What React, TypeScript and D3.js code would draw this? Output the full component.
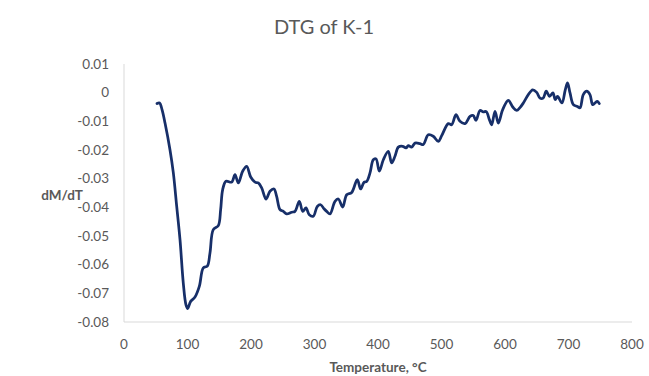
import { useRef, useEffect } from "react";
import * as d3 from "d3";

// DTG of K-1
const temperature = [
  52, 56, 60, 64.6, 72.4, 77.7, 83, 88.2, 93.4, 97.6, 100.3, 105, 111.8, 118.6, 124.9, 131.2,
  135.4, 140.6, 148.5, 152.2, 155.4, 160.6, 169.6, 174.8, 180, 186.9, 193.2, 199.5, 206.3,
  211.5, 216.8, 223.6, 229.9, 236.2, 240.4, 245.7, 250.9, 256.2, 264, 269.3, 276.1, 281.4,
  286.6, 291.8, 298.1, 304.4, 309.7, 315, 319.2, 324.4, 332.3, 337.5, 344.4, 350.7, 358.6,
  367.4, 372.6, 377.9, 382.1, 387.4, 392.6, 396.9, 402.1, 408.4, 416.2, 421.5, 426.7, 432,
  438.9, 444, 447.8, 453, 458.3, 466.1, 471.3, 479.2, 487, 495, 500.3, 510.7, 516, 522.8,
  529.1, 537, 544.9, 550, 554.3, 560.6, 565.8, 570.5, 575.4, 579, 584.3, 589.5, 596.4, 605.2,
  612.2, 618.4, 623.6, 628.9, 636.7, 643.6, 649.9, 655.1, 660, 665, 670.2, 675.5, 679.1,
  682.8, 689.6, 694.9, 698.5, 702.4, 707.6, 713.9, 718.1, 723.3, 728.6, 733.8, 738, 741.7,
  745.4, 748.5,
];
const dtg = [
  -0.0038, -0.0036, -0.006, -0.0106, -0.0199, -0.028, -0.0397, -0.0513, -0.0665, -0.074,
  -0.0753, -0.0728, -0.0713, -0.0676, -0.0611, -0.0605, -0.0559, -0.0478, -0.0464, -0.0408,
  -0.0338, -0.0309, -0.0312, -0.0286, -0.0315, -0.0274, -0.0257, -0.0294, -0.0312, -0.0315,
  -0.0332, -0.0371, -0.0344, -0.0336, -0.0362, -0.0408, -0.0414, -0.0423, -0.0417, -0.0414,
  -0.0379, -0.0414, -0.0402, -0.0426, -0.0431, -0.0397, -0.0391, -0.0405, -0.0414, -0.0423,
  -0.0379, -0.0371, -0.0399, -0.0356, -0.0348, -0.0303, -0.0336, -0.0313, -0.031, -0.028,
  -0.0234, -0.0231, -0.0274, -0.0234, -0.0205, -0.0245, -0.0222, -0.019, -0.0187, -0.0193,
  -0.0185, -0.019, -0.0176, -0.0178, -0.0181, -0.0147, -0.0152, -0.017, -0.015, -0.0108,
  -0.0112, -0.0077, -0.01, -0.0108, -0.0083, -0.008, -0.0097, -0.0062, -0.0067, -0.0066,
  -0.0094, -0.0112, -0.0065, -0.0106, -0.0059, -0.0027, -0.005, -0.0062, -0.0052, -0.0036,
  -0.0007, 0.001, 0.0001, -0.0019, -0.0019, 0.0005, -0.0013, -0.0001, -0.0024, -0.0013,
  -0.0036, 0.001, 0.0034, -0.0001, -0.0042, -0.0048, -0.0053, -0.0007, 0.0005, -0.0007,
  -0.0042, -0.0036, -0.003, -0.0038,
];
const xTicks = [0, 100, 200, 300, 400, 500, 600, 700, 800];
const yTicks = [0.01, 0, -0.01, -0.02, -0.03, -0.04, -0.05, -0.06, -0.07, -0.08];

const W = 649;
const H = 376;
const FONT = "Lato, 'Open Sans', sans-serif";
const TEXT = "#595959";
const LINE = "#172f69";

export default function App() {
  const svgRef = useRef<SVGSVGElement>(null);

  useEffect(() => {
    const svg = d3.select(svgRef.current);
    svg.selectAll("*").remove();

    const x = d3.scaleLinear().domain([0, 800]).range([124, 632]);
    const y = d3.scaleLinear().domain([-0.08, 0.01]).range([322, 64]);

    // title
    svg.append("text")
      .attr("x", 324).attr("y", 34)
      .attr("text-anchor", "middle")
      .attr("font-size", 20)
      .attr("fill", TEXT)
      .text("DTG of K-1");

    // axes lines
    svg.append("line")
      .attr("x1", x(0)).attr("x2", x(0))
      .attr("y1", y(0.01)).attr("y2", y(-0.08))
      .attr("stroke", "#d9d9d9").attr("stroke-width", 1);
    svg.append("line")
      .attr("x1", x(0)).attr("x2", x(800))
      .attr("y1", y(-0.08)).attr("y2", y(-0.08))
      .attr("stroke", "#d9d9d9").attr("stroke-width", 1);

    // y tick labels
    svg.append("g").selectAll("text")
      .data(yTicks)
      .join("text")
      .attr("x", 109)
      .attr("y", d => y(d))
      .attr("dy", "0.35em")
      .attr("text-anchor", "end")
      .attr("font-size", 13.5)
      .attr("fill", TEXT)
      .text(d => (d === 0 ? "0" : String(d)));

    // x tick labels
    svg.append("g").selectAll("text")
      .data(xTicks)
      .join("text")
      .attr("x", d => x(d))
      .attr("y", 349)
      .attr("text-anchor", "middle")
      .attr("font-size", 13.5)
      .attr("fill", TEXT)
      .text(d => String(d));

    // axis titles
    svg.append("text")
      .attr("x", 62).attr("y", 200)
      .attr("text-anchor", "middle")
      .attr("font-size", 13.5).attr("font-weight", "bold")
      .attr("fill", TEXT)
      .text("dM/dT");
    svg.append("text")
      .attr("x", 378).attr("y", 372)
      .attr("text-anchor", "middle")
      .attr("font-size", 13.5).attr("font-weight", "bold")
      .attr("fill", TEXT)
      .text("Temperature, °C");

    // the curve
    const pts: [number, number][] = temperature.map((t, i) => [t, dtg[i]]);
    const line = d3.line<[number, number]>()
      .x(d => x(d[0]))
      .y(d => y(d[1]))
      .curve(d3.curveCatmullRom.alpha(0.5));

    svg.append("path")
      .datum(pts)
      .attr("d", line)
      .attr("fill", "none")
      .attr("stroke", LINE)
      .attr("stroke-width", 2.75)
      .attr("stroke-linejoin", "round")
      .attr("stroke-linecap", "round");
  }, []);

  return (
    <svg
      ref={svgRef}
      width={W}
      height={H}
      style={{ position: "absolute", left: 0, top: 0, background: "#fff", fontFamily: FONT }}
    />
  );
}
